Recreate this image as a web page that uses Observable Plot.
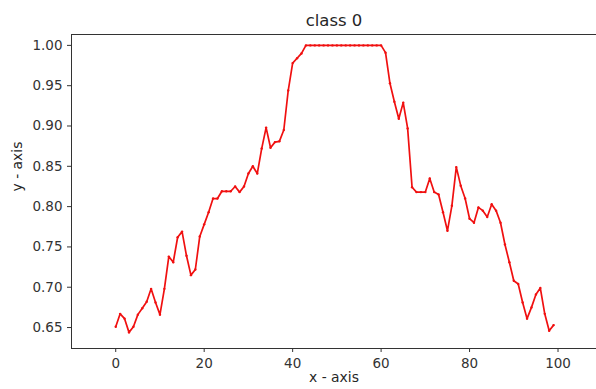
<!DOCTYPE html>
<html>
<head>
<meta charset="utf-8">
<script src="https://cdn.jsdelivr.net/npm/d3@7"></script>
<script src="https://cdn.jsdelivr.net/npm/@observablehq/plot@0.6"></script>
<style>
  html, body { margin: 0; padding: 0; background: #fff; }
</style>
</head>
<body>
<div id="chart"></div>
<script>
const titleText = "class 0";
const xLabel = "x - axis";
const yLabel = "y - axis";
const xTicks = [0, 20, 40, 60, 80, 100];
const yTicks = [0.65, 0.70, 0.75, 0.80, 0.85, 0.90, 0.95, 1.00];
const yValues = [
  0.651, 0.667, 0.661, 0.644, 0.651, 0.666, 0.674, 0.682, 0.698, 0.681,
  0.666, 0.698, 0.738, 0.731, 0.762, 0.769, 0.739, 0.715, 0.722, 0.763,
  0.778, 0.793, 0.810, 0.810, 0.819, 0.819, 0.819, 0.825, 0.818, 0.825,
  0.841, 0.850, 0.841, 0.872, 0.898, 0.873, 0.880, 0.881, 0.895, 0.944,
  0.978, 0.984, 0.990, 1.000, 1.000, 1.000, 1.000, 1.000, 1.000, 1.000,
  1.000, 1.000, 1.000, 1.000, 1.000, 1.000, 1.000, 1.000, 1.000, 1.000,
  1.000, 0.991, 0.953, 0.930, 0.909, 0.929, 0.897, 0.824, 0.818, 0.818,
  0.818, 0.835, 0.818, 0.815, 0.793, 0.770, 0.801, 0.849, 0.826, 0.810,
  0.785, 0.780, 0.799, 0.795, 0.787, 0.803, 0.795, 0.780, 0.753, 0.731,
  0.708, 0.704, 0.681, 0.661, 0.675, 0.691, 0.699, 0.667, 0.646, 0.653
];
const data = yValues.map((y, i) => ({x: i, y}));

const xDomain = [-10, 108.7];
const yDomain = [0.624, 1.0135];

const chart = Plot.plot({
  width: 596,
  height: 389,
  marginLeft: 71,
  marginRight: 0,
  marginTop: 34,
  marginBottom: 41,
  style: {fontFamily: "DejaVu Sans, sans-serif", fontSize: "13.5px", color: "#333", background: "#fff"},
  x: {domain: xDomain},
  y: {domain: yDomain},
  marks: [
    Plot.axisX({ticks: xTicks, tickSize: 4, tickPadding: 6, label: null, fontSize: 13.5, stroke: "#333"}),
    Plot.axisY({ticks: yTicks, tickSize: 4, tickPadding: 5, tickFormat: d3.format(".2f"), label: null, fontSize: 13.5, stroke: "#333"}),
    Plot.ruleX([xDomain[0]], {stroke: "#333", strokeWidth: 1}),
    Plot.ruleY([yDomain[0], yDomain[1]], {stroke: "#333", strokeWidth: 1}),
    Plot.line(data, {x: "x", y: "y", stroke: "#f01010", strokeWidth: 1.7}),
    Plot.dot(data, {x: "x", y: "y", r: 1.2, fill: "#f01010", stroke: "none"}),
    Plot.text([titleText], {frameAnchor: "top", dy: -20, fontSize: 16.5, fill: "#262626"}),
    Plot.text([xLabel], {frameAnchor: "bottom", dy: 33, fontSize: 13.9, fill: "#262626"}),
    Plot.text([yLabel], {frameAnchor: "left", dx: -54, rotate: -90, fontSize: 13.9, fill: "#262626"})
  ]
});
document.getElementById("chart").appendChild(chart);
</script>
</body>
</html>
